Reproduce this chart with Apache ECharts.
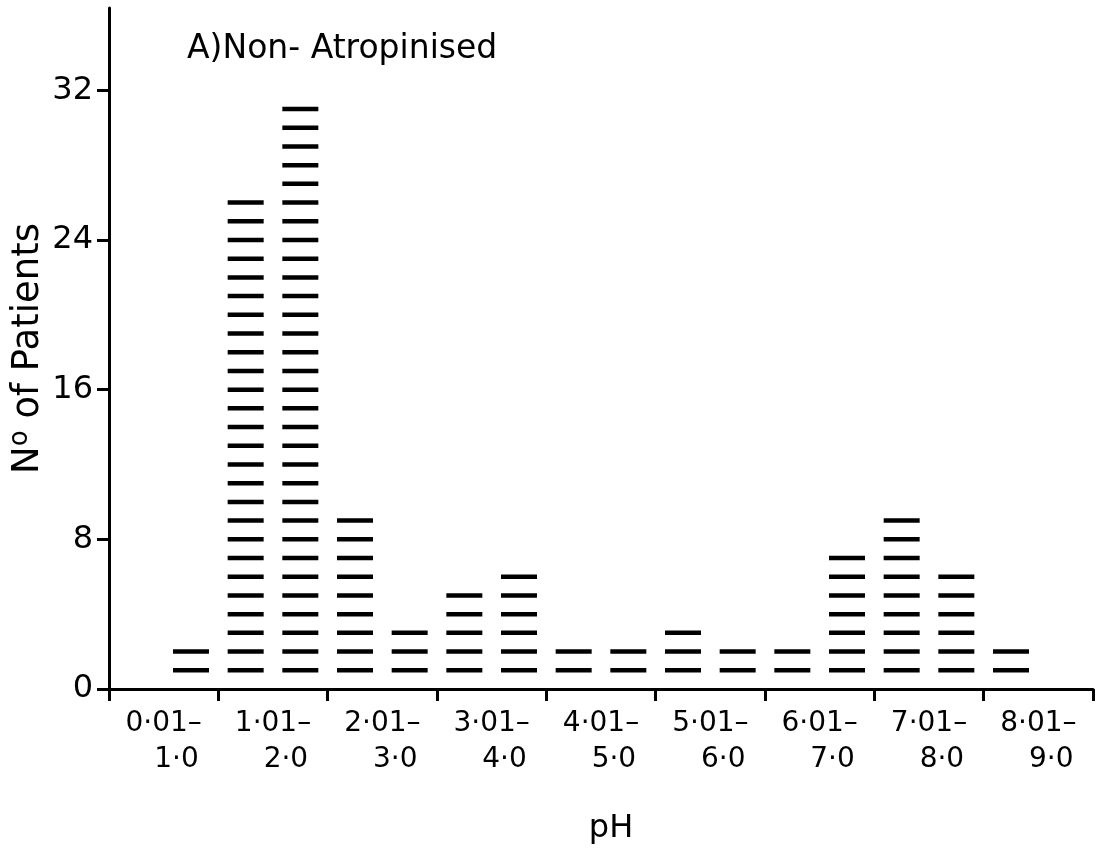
<!DOCTYPE html>
<html>
<head>
<meta charset="utf-8">
<script src="https://cdn.jsdelivr.net/npm/echarts@6/dist/echarts.min.js"></script>
<style>
  html, body { margin: 0; padding: 0; background: #fff; }
  #chart { width: 1102px; height: 858px; }
</style>
</head>
<body>
<div id="chart"></div>
<script>
// Half-unit pH bin centres, one column of dashes per bin
const phBinCentres = [0.75, 1.25, 1.75, 2.25, 2.75, 3.25, 3.75, 4.25,
                      4.75, 5.25, 5.75, 6.25, 6.75, 7.25, 7.75, 8.25];
// Number of patients in each bin (one dash per patient)
const patientCounts = [2, 26, 31, 9, 3, 5, 6, 2, 2, 3, 2, 2, 7, 9, 6, 2];
// pH range labels along the x axis (two lines each)
const rangeFrom = ['0·01–', '1·01–', '2·01–', '3·01–', '4·01–', '5·01–', '6·01–', '7·01–', '8·01–'];
const rangeTo   = ['1·0', '2·0', '3·0', '4·0', '5·0', '6·0', '7·0', '8·0', '9·0'];
// y axis ticks
const countTicks = [0, 8, 16, 24, 32];

const FONT = 'DejaVu Sans';
const INK = '#000';

// one point per patient: dash k of a column sits at count k
const dashes = [];
phBinCentres.forEach((x, i) => {
  for (let k = 1; k <= patientCounts[i]; k++) dashes.push([x, k]);
});

const chart = echarts.init(document.getElementById('chart'));
chart.setOption({
  animation: false,
  backgroundColor: '#fff',
  textStyle: { fontFamily: FONT, color: INK },
  title: {
    text: 'A)Non- Atropinised',
    left: 187,
    top: 33,
    padding: 0,
    textStyle: { fontFamily: FONT, fontSize: 33, fontWeight: 'normal', color: INK }
  },
  grid: { left: 109, right: 9, top: 8, bottom: 169, outerBoundsMode: 'none' },
  xAxis: [
    {
      type: 'value',
      min: 0,
      max: 9,
      interval: 1,
      axisLine: { show: true, lineStyle: { color: INK, width: 3 } },
      axisTick: { show: true, length: 12, lineStyle: { color: INK, width: 3 } },
      axisLabel: { show: false },
      splitLine: { show: false },
      name: 'pH',
      nameLocation: 'middle',
      nameGap: 124,
      nameMoveOverlap: false,
      nameTextStyle: { fontFamily: FONT, fontSize: 32, color: INK, padding: [0, 0, 0, 20] }
    },
    {
      type: 'category',
      data: rangeFrom,
      boundaryGap: true,
      position: 'bottom',
      axisLine: { show: false },
      axisTick: { show: false },
      splitLine: { show: false },
      axisLabel: {
        interval: 0,
        margin: 17,
        formatter: (v, i) => '{a|' + rangeFrom[i] + '}\n{b|' + rangeTo[i] + '}',
        rich: {
          a: { fontFamily: FONT, fontSize: 28, lineHeight: 36, color: INK },
          b: { fontFamily: FONT, fontSize: 28, lineHeight: 36, color: INK, align: 'right', padding: [0, 3, 0, 0] }
        }
      }
    }
  ],
  yAxis: {
    type: 'value',
    min: 0,
    max: 36.4,
    axisLine: { show: true, lineStyle: { color: INK, width: 3 } },
    axisTick: { show: true, length: 12, customValues: countTicks, lineStyle: { color: INK, width: 3 } },
    axisLabel: { customValues: countTicks, margin: 16, fontFamily: FONT, fontSize: 32, color: INK },
    splitLine: { show: false },
    name: '{n|N}{o|o}{t| of Patients}',
    nameLocation: 'middle',
    nameRotate: 90,
    nameGap: 60,
    nameMoveOverlap: false,
    nameTextStyle: {
      rich: {
        n: { fontFamily: FONT, fontSize: 37, lineHeight: 42, color: INK },
        o: { fontFamily: FONT, fontSize: 26, lineHeight: 28, verticalAlign: 'top', color: INK },
        t: { fontFamily: FONT, fontSize: 37, lineHeight: 42, color: INK }
      }
    }
  },
  series: [{
    type: 'scatter',
    xAxisIndex: 0,
    data: dashes,
    symbol: 'rect',
    symbolSize: [36, 4.5],
    itemStyle: { color: '#000', opacity: 1 },
    emphasis: { disabled: true }
  }]
});
</script>
</body>
</html>
